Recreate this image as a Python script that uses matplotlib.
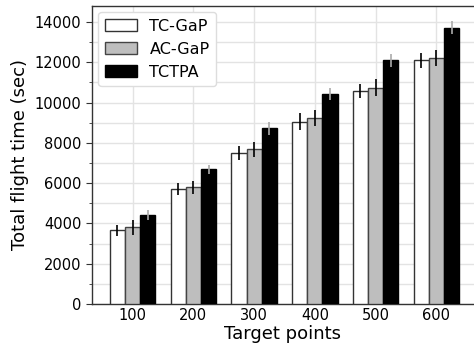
import matplotlib
matplotlib.use('Agg')
import matplotlib.pyplot as plt
from matplotlib.ticker import MultipleLocator
import numpy as np

# data
targets = ["100", "200", "300", "400", "500", "600"]
tc_gap = [3650, 5700, 7480, 9060, 10560, 12110]
ac_gap = [3800, 5800, 7680, 9220, 10740, 12230]
tctpa = [4400, 6680, 8730, 10440, 12090, 13720]
tc_gap_err = [290, 290, 350, 400, 355, 370]
ac_gap_err = [355, 315, 380, 405, 430, 390]
tctpa_err = [250, 220, 330, 290, 315, 340]

fig = plt.figure(figsize=(4.74, 3.47), dpi=100)
ax = fig.add_axes([0.194, 0.124, 0.806, 0.859])

x = np.arange(len(targets))
w = 0.25

ax.bar(x - w, tc_gap, w, yerr=tc_gap_err, color='white', edgecolor='#333333',
       linewidth=1.0, ecolor='black', error_kw=dict(elinewidth=1.2), label='TC-GaP', zorder=3)
ax.bar(x, ac_gap, w, yerr=ac_gap_err, color='#bebebe', edgecolor='#444444',
       linewidth=1.0, ecolor='black', error_kw=dict(elinewidth=1.2), label='AC-GaP', zorder=3)
ax.bar(x + w, tctpa, w, yerr=tctpa_err, color='black', edgecolor='black',
       linewidth=1.0, ecolor='#aaaaaa', error_kw=dict(elinewidth=1.2), label='TCTPA', zorder=3)

ax.set_xlim(-0.67, 5.62)
ax.set_ylim(0, 14800)
ax.set_xticks(x)
ax.set_xticklabels(targets)
ax.yaxis.set_major_locator(MultipleLocator(2000))
ax.yaxis.set_minor_locator(MultipleLocator(1000))
ax.tick_params(axis='x', length=0, labelsize=10.5, pad=3)
ax.tick_params(axis='y', which='major', length=4, labelsize=10.5, color='#333333')
ax.tick_params(axis='y', which='minor', length=2.5, color='#333333')

ax.grid(True, which='both', color='#e3e3e3', linewidth=1.0, zorder=0)
ax.set_axisbelow(True)
for s in ax.spines.values():
    s.set_color('#333333')
    s.set_linewidth(1.0)
ax.spines['right'].set_visible(False)

ax.set_xlabel("Target points", fontsize=13, labelpad=1)
ax.set_ylabel("Total flight time (sec)", fontsize=13)

leg = ax.legend(loc='upper left', fontsize=11.5, handlelength=2.0, borderaxespad=0.4,
                fancybox=True, framealpha=1.0)
leg.get_frame().set_edgecolor('#dddddd')

fig.savefig("out.png", dpi=100)
